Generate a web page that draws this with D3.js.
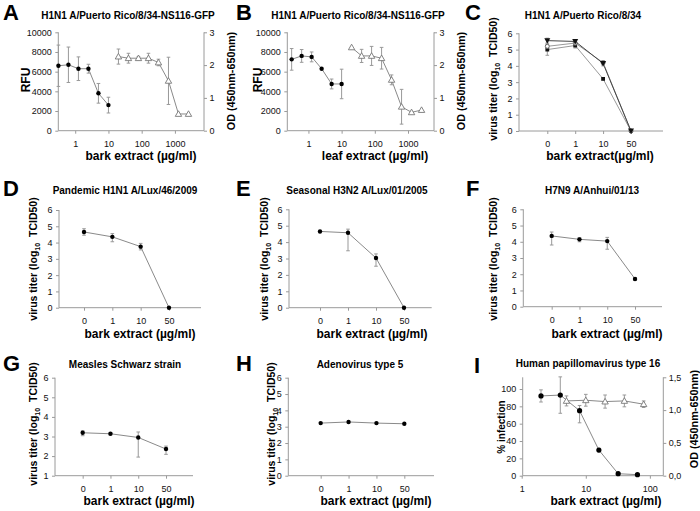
<!DOCTYPE html>
<html><head><meta charset="utf-8">
<script src="https://cdn.jsdelivr.net/npm/d3@7"></script>
<style>body{margin:0;background:#fff}svg{display:block}</style>
</head><body>
<svg id="chart" width="700" height="511"></svg>
<script>
// ---------- DATA ----------
const concFilledAB = [0.3125, 0.625, 1.25, 2.5, 5, 10];
const concOpenAB = [20, 40, 80, 160, 320, 640, 1280, 2560];
const rfuA = [6600, 6700, 6300, 6300, 3800, 2600];
const rfuAErr = [2100, 1800, 1200, 450, 1000, 800];
const odA = [2.26, 2.21, 2.21, 2.21, 2.08, 1.52, 0.51, 0.51];
const odAErr = [0.23, 0.15, 0.05, 0.15, 0.1, 0.72, 0, 0];
const rfuB = [7250, 7600, 7500, 6300, 4750, 4750];
const rfuBErr = [1100, 650, 500, 0, 500, 1500];
const odB = [2.54, 2.28, 2.28, 2.21, 1.55, 0.73, 0.56, 0.63];
const odBErr = [0, 0.2, 0.29, 0.33, 0.15, 0.53, 0, 0];

const doseLabels = ["0", "1", "10", "50"];
const titerC1 = [5.55, 5.5, 4.15, 0];
const titerC1Err = [0.15, 0.1, 0.15, 0];
const titerC2 = [5.2, 5.4, 4.2, 0];
const titerC2Err = [0.1, 0.1, 0.1, 0];
const titerC3 = [5.0, 5.25, 3.2, 0];
const titerC3Err = [0.35, 0.15, 0, 0];
const titerD = [4.65, 4.35, 3.75, 0];
const titerDErrMinus = [0.2, 0.3, 0.2, 0];
const titerDErrPlus = [0.2, 0.2, 0.2, 0];
const titerE = [4.65, 4.57, 3.03, 0];
const titerEErrMinus = [0, 1.1, 0.5, 0];
const titerEErrPlus = [0, 0.22, 0.25, 0];
const titerF = [4.36, 4.15, 4.04, 1.71];
const titerFErrMinus = [0.56, 0.15, 0.5, 0.08];
const titerFErrPlus = [0.24, 0.1, 0.23, 0.08];
const titerG = [3.19, 3.14, 2.95, 2.36];
const titerGErrMinus = [0.15, 0.05, 1.0, 0.27];
const titerGErrPlus = [0.1, 0.05, 0.28, 0.15];
const titerH = [3.22, 3.29, 3.22, 3.18];
const titerHErr = [0, 0, 0, 0];

const concInfI = [2, 4, 8, 16, 32, 64];
const infectionI = [92, 93, 75, 29.6, 2.3, 1.2];
const infectionIErrMinus = [7, 21, 14, 2, 0, 0];
const infectionIErrPlus = [7, 21, 6, 2, 0, 0];
const concOdI = [5, 10, 20, 40, 80];
const odI = [1.14, 1.15, 1.13, 1.14, 1.09];
const odIErr = [0.076, 0.09, 0.1, 0.09, 0.05];

const ticksRFU = [0, 2000, 4000, 6000, 8000, 10000];
const ticksOD3 = [0, 1, 2, 3];
const ticksTiter = [0, 1, 2, 3, 4, 5, 6];
const ticksTiterG = [1, 2, 3, 4, 5, 6];
const ticksInfection = [0, 20, 40, 60, 80, 100];
const ticksOdI = [0, 0.5, 1.0, 1.5];
const logTicksAB = [1, 10, 100, 1000];
const logTicksI = [1, 10, 100];

// ---------- RENDER ----------
const FONT = "'Liberation Sans', Arial, Helvetica, sans-serif";
const AXIS = "#9a9a9a";
const LINE = "#8a8a8a";
const TICKFS = 9;
const svg = d3.select("#chart").attr("font-family", FONT);

function drawPanel(p) {
  const g = svg.append("g");
  const x = p.xType === "log"
    ? d3.scaleLog().domain(p.xDomain).range(p.xRange)
    : d3.scaleLinear().domain([0, 5]).range(p.xRange);
  const y = d3.scaleLinear().domain(p.yDomain).range([p.bottom, p.top]);
  const y2 = p.y2Domain ? d3.scaleLinear().domain(p.y2Domain).range([p.bottom, p.top]) : null;

  g.append("text").attr("x", p.lx).attr("y", p.ly).attr("font-size", 22).attr("font-weight", "bold").text(p.letter);
  g.append("text").attr("x", p.tx).attr("y", p.ty).attr("text-anchor", "middle")
    .attr("font-size", 10).attr("font-weight", "bold").text(p.title);

  const xa = d3.axisBottom(x).tickSize(3).tickPadding(7).tickSizeOuter(0)
    .tickValues(p.xTicks).tickFormat(p.xFmt);
  const gx = g.append("g").attr("transform", `translate(0,${p.bottom})`).call(xa);
  gx.select(".domain").remove();
  gx.selectAll("line").attr("stroke", AXIS);
  gx.selectAll("text").attr("font-size", TICKFS).attr("font-family", FONT).attr("fill", "#111");
  g.append("line").attr("x1", p.left).attr("x2", p.right).attr("y1", p.bottom).attr("y2", p.bottom).attr("stroke", AXIS);

  const ya = d3.axisLeft(y).tickSize(3).tickPadding(3.5).tickSizeOuter(0).tickValues(p.yTicks).tickFormat(p.yFmt || (d => d));
  const gy = g.append("g").attr("transform", `translate(${p.left},0)`).call(ya);
  gy.select(".domain").remove();
  gy.selectAll("line").attr("stroke", AXIS);
  gy.selectAll("text").attr("font-size", TICKFS).attr("font-family", FONT).attr("fill", "#111");
  g.append("line").attr("x1", p.left).attr("x2", p.left).attr("y1", p.top).attr("y2", p.bottom).attr("stroke", AXIS);

  if (y2) {
    const ya2 = d3.axisRight(y2).tickSize(3).tickPadding(2.5).tickSizeOuter(0).tickValues(p.y2Ticks).tickFormat(p.y2Fmt || (d => d));
    const gy2 = g.append("g").attr("transform", `translate(${p.right},0)`).call(ya2);
    gy2.select(".domain").remove();
    gy2.selectAll("line").attr("stroke", AXIS);
    gy2.selectAll("text").attr("font-size", TICKFS).attr("font-family", FONT).attr("fill", "#111");
    g.append("line").attr("x1", p.right).attr("x2", p.right).attr("y1", p.top).attr("y2", p.bottom).attr("stroke", AXIS);
  }

  g.append("text").attr("x", p.xlx).attr("y", p.xly).attr("text-anchor", "middle")
    .attr("font-size", 12).attr("font-weight", "bold").text(p.xLabel);
  const yl = g.append("text").attr("transform", `translate(${p.ylx},${p.yly}) rotate(-90)`)
    .attr("text-anchor", "middle").attr("font-weight", "bold").attr("font-size", p.ySize || 12);
  if (p.yLabel === "titer") {
    yl.append("tspan").text("virus titer (log");
    yl.append("tspan").attr("font-size", 7).attr("dy", 3).text("10");
    yl.append("tspan").attr("dy", -3).text("\u00a0 TCID50)");
  } else {
    yl.text(p.yLabel);
  }
  if (p.y2Label) {
    g.append("text").attr("transform", `translate(${p.y2lx},${p.y2ly}) rotate(-90)`)
      .attr("text-anchor", "middle").attr("font-weight", "bold").attr("font-size", 10.8).text(p.y2Label);
  }

  p.series.forEach(s => {
    const ys = s.axis === "right" ? y2 : y;
    const pts = s.xs.map((xv, i) => ({
      x: x(xv), y: ys(s.ys[i]),
      lo: ys(s.ys[i] - s.em[i]), hi: ys(s.ys[i] + s.ep[i])
    }));
    g.append("path").attr("d", d3.line().x(d => d.x).y(d => d.y)(pts))
      .attr("fill", "none").attr("stroke", s.lineColor || LINE).attr("stroke-width", 1);
    pts.forEach(d => {
      if (Math.abs(d.lo - d.hi) < 0.5) return;
      g.append("line").attr("x1", d.x).attr("x2", d.x).attr("y1", d.lo).attr("y2", d.hi).attr("stroke", "#999").attr("stroke-width", 1);
      [d.lo, d.hi].forEach(v => g.append("line").attr("x1", d.x - 1.8).attr("x2", d.x + 1.8).attr("y1", v).attr("y2", v).attr("stroke", "#999"));
    });
    const r = s.r || 2.2;
    pts.forEach(d => {
      if (s.marker === "circle") {
        g.append("circle").attr("cx", d.x).attr("cy", d.y).attr("r", r).attr("fill", "#000");
      } else if (s.marker === "ocircle") {
        g.append("circle").attr("cx", d.x).attr("cy", d.y).attr("r", r).attr("fill", "#fff").attr("stroke", "#666");
      } else if (s.marker === "square") {
        g.append("rect").attr("x", d.x - r).attr("y", d.y - r).attr("width", 2 * r).attr("height", 2 * r).attr("fill", "#111");
      } else if (s.marker === "tri") {
        g.append("path").attr("d", `M${d.x},${d.y - 3.2}L${d.x + 3.2},${d.y + 2.4}L${d.x - 3.2},${d.y + 2.4}Z`)
          .attr("fill", "#fff").attr("stroke", "#777").attr("stroke-width", 0.9);
      } else if (s.marker === "tridown") {
        g.append("path").attr("d", `M${d.x},${d.y + 3}L${d.x + 3},${d.y - 2.4}L${d.x - 3},${d.y - 2.4}Z`).attr("fill", "#111");
      }
    });
  });
}

const cats = doseLabels.map((d, i) => i + 1);
const catFmt = (d) => doseLabels[d - 1];
const odFmtComma = d => d.toFixed(1).replace(".", ",");
const plainFmt = d => String(d);

drawPanel({
  letter: "A", lx: 3, ly: 20, title: "H1N1 A/Puerto Rico/8/34-NS116-GFP", tx: 128, ty: 19,
  left: 58.3, right: 204, top: 32.3, bottom: 130.7,
  xType: "log", xDomain: [0.31, 7500], xRange: [58.3, 204], xTicks: logTicksAB, xFmt: plainFmt,
  xLabel: "bark extract (\u00b5g/ml)", xlx: 141, xly: 160,
  yDomain: [0, 10000], yTicks: ticksRFU, yLabel: "RFU", ylx: 29.5, yly: 80,
  y2Domain: [0, 3], y2Ticks: ticksOD3, y2Label: "OD (450nm-650nm)", y2lx: 234.5, y2ly: 81,
  series: [
    { xs: concFilledAB, ys: rfuA, em: rfuAErr, ep: rfuAErr, axis: "left", marker: "circle" },
    { xs: concOpenAB, ys: odA, em: odAErr, ep: odAErr, axis: "right", marker: "tri" }
  ]
});
drawPanel({
  letter: "B", lx: 236, ly: 20, title: "H1N1 A/Puerto Rico/8/34-NS116-GFP", tx: 358, ty: 19,
  left: 287.3, right: 434, top: 32.3, bottom: 130.7,
  xType: "log", xDomain: [0.231, 6070], xRange: [287.3, 434], xTicks: logTicksAB, xFmt: plainFmt,
  xLabel: "leaf extract (\u00b5g/ml)", xlx: 375, xly: 160,
  yDomain: [0, 10000], yTicks: ticksRFU, yLabel: "RFU", ylx: 261.5, yly: 80,
  y2Domain: [0, 3], y2Ticks: ticksOD3, y2Label: "OD (450nm-650nm)", y2lx: 464.5, y2ly: 81,
  series: [
    { xs: concFilledAB, ys: rfuB, em: rfuBErr, ep: rfuBErr, axis: "left", marker: "circle" },
    { xs: concOpenAB, ys: odB, em: odBErr, ep: odBErr, axis: "right", marker: "tri" }
  ]
});
drawPanel({
  letter: "C", lx: 465, ly: 20, title: "H1N1 A/Puerto Rico/8/34", tx: 583, ty: 19,
  left: 519, right: 663, top: 33.3, bottom: 131,
  xType: "cat", xRange: [519.4, 658.9], xTicks: cats, xFmt: catFmt,
  xLabel: "bark extract(\u00b5g/ml)", xlx: 600, xly: 160,
  yDomain: [0, 6], yTicks: ticksTiter, yLabel: "titer", ySize: 10.5, ylx: 497, yly: 79,
  series: [
    { xs: cats, ys: titerC3, em: titerC3Err, ep: titerC3Err, marker: "square", r: 1.9, lineColor: "#9a9a9a" },
    { xs: cats, ys: titerC2, em: titerC2Err, ep: titerC2Err, marker: "ocircle", r: 2, lineColor: "#9a9a9a" },
    { xs: cats, ys: titerC1, em: titerC1Err, ep: titerC1Err, marker: "tridown", lineColor: "#444" }
  ]
});
drawPanel({
  letter: "D", lx: 3, ly: 196, title: "Pandemic H1N1 A/Lux/46/2009", tx: 125, ty: 193.5,
  left: 59, right: 201, top: 210, bottom: 307.7,
  xType: "cat", xRange: [55.7, 197.3], xTicks: cats, xFmt: catFmt,
  xLabel: "bark extract (\u00b5g/ml)", xlx: 140, xly: 338,
  yDomain: [0, 6], yTicks: ticksTiter, yLabel: "titer", ySize: 10.5, ylx: 37, yly: 259,
  series: [{ xs: cats, ys: titerD, em: titerDErrMinus, ep: titerDErrPlus, marker: "circle" }]
});
drawPanel({
  letter: "E", lx: 236, ly: 196, title: "Seasonal H3N2 A/Lux/01/2005", tx: 357, ty: 193.5,
  left: 289, right: 431.7, top: 209.3, bottom: 307.7,
  xType: "cat", xRange: [292, 432], xTicks: cats, xFmt: catFmt,
  xLabel: "bark extract (\u00b5g/ml)", xlx: 372, xly: 338,
  yDomain: [0, 6], yTicks: ticksTiter, yLabel: "titer", ySize: 10.5, ylx: 268, yly: 259,
  series: [{ xs: cats, ys: titerE, em: titerEErrMinus, ep: titerEErrPlus, marker: "circle" }]
});
drawPanel({
  letter: "F", lx: 466, ly: 196, title: "H7N9 A/Anhui/01/13", tx: 592, ty: 193.5,
  left: 523.3, right: 662, top: 209.3, bottom: 306.7,
  xType: "cat", xRange: [523.9, 662.8], xTicks: cats, xFmt: catFmt,
  xLabel: "bark extract (\u00b5g/ml)", xlx: 607, xly: 338,
  yDomain: [0, 6], yTicks: ticksTiter, yLabel: "titer", ySize: 10.5, ylx: 497, yly: 259,
  series: [{ xs: cats, ys: titerF, em: titerFErrMinus, ep: titerFErrPlus, marker: "circle" }]
});
drawPanel({
  letter: "G", lx: 3, ly: 371, title: "Measles Schwarz strain", tx: 125, ty: 367.5,
  left: 55, right: 193, top: 377.7, bottom: 475.7,
  xType: "cat", xRange: [54.9, 193.8], xTicks: cats, xFmt: catFmt,
  xLabel: "bark extract (\u00b5g/ml)", xlx: 139, xly: 505,
  yDomain: [1, 6], yTicks: ticksTiterG, yLabel: "titer", ySize: 10.5, ylx: 37, yly: 424,
  series: [{ xs: cats, ys: titerG, em: titerGErrMinus, ep: titerGErrPlus, marker: "circle" }]
});
drawPanel({
  letter: "H", lx: 236, ly: 371, title: "Adenovirus type 5", tx: 360, ty: 367.5,
  left: 288.3, right: 434, top: 377.7, bottom: 475.7,
  xType: "cat", xRange: [292.8, 432.2], xTicks: cats, xFmt: catFmt,
  xLabel: "bark extract (\u00b5g/ml)", xlx: 376, xly: 505,
  yDomain: [0, 6], yTicks: ticksTiter, yLabel: "titer", ySize: 10.5, ylx: 275, yly: 424,
  series: [{ xs: cats, ys: titerH, em: titerHErr, ep: titerHErr, marker: "circle" }]
});
drawPanel({
  letter: "I", lx: 474, ly: 373, title: "Human papillomavirus type 16", tx: 588, ty: 367,
  left: 522.7, right: 663.3, top: 377.3, bottom: 475.7,
  xType: "log", xDomain: [1.036, 162], xRange: [522.7, 663.3], xTicks: logTicksI, xFmt: plainFmt,
  xLabel: "bark extract (\u00b5g/ml)", xlx: 606, xly: 505,
  yDomain: [0, 113.5], yTicks: ticksInfection, yLabel: "% infection", ySize: 10, ylx: 505, yly: 427,
  y2Domain: [0, 1.5], y2Ticks: ticksOdI, y2Fmt: odFmtComma, y2Label: "OD (450nm-650nm)", y2lx: 698, y2ly: 419,
  series: [
    { xs: concInfI, ys: infectionI, em: infectionIErrMinus, ep: infectionIErrPlus, axis: "left", marker: "circle", r: 2.6 },
    { xs: concOdI, ys: odI, em: odIErr, ep: odIErr, axis: "right", marker: "tri" }
  ]
});
</script>
</body></html>
